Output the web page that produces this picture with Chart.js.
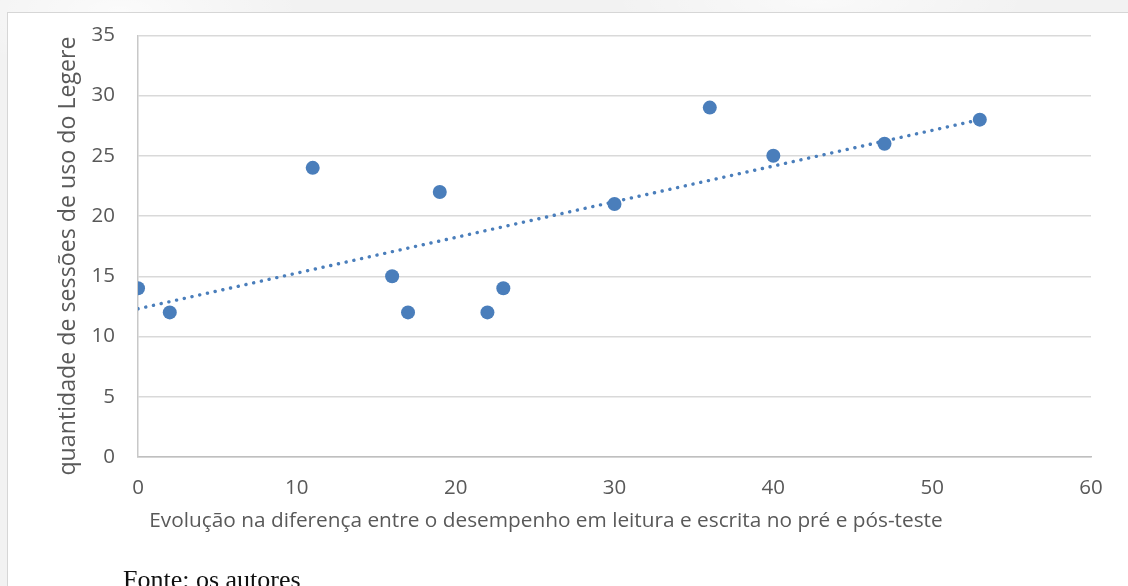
<!DOCTYPE html>
<html>
<head>
<meta charset="utf-8">
<script src="https://cdn.jsdelivr.net/npm/chart.js@4/dist/chart.umd.min.js"></script>
<style>
  html, body { margin: 0; padding: 0; }
  body {
    width: 1128px; height: 586px; overflow: hidden; position: relative;
    background: #f2f2f2;
    background-image:
      radial-gradient(ellipse 260px 90px at 120px 10px, rgba(255,255,255,0.7), rgba(255,255,255,0) 70%),
      radial-gradient(ellipse 300px 60px at 820px 2px, rgba(255,255,255,0.6), rgba(255,255,255,0) 70%);
  }
  .frame {
    position: absolute; left: 7px; top: 12px; width: 1200px; height: 700px;
    background: #fff; border: 1px solid #d6d6d6;
  }
  #wrap { position: absolute; left: 0; top: 0; width: 1128px; height: 586px; }
  .fonte {
    position: absolute; left: 123px; top: 567px;
    font-family: "Liberation Serif", "Times New Roman", serif;
    font-size: 26px; line-height: 1; color: #111; white-space: nowrap;
  }
</style>
</head>
<body>
<div class="frame"></div>
<div id="wrap"><canvas id="chart"></canvas></div>
<div class="fonte">Fonte: os autores</div>

<script>
// ── Data ───────────────────────────────────────────
const EVOLUCAO = [0, 2, 11, 16, 17, 19, 22, 23, 30, 36, 40, 47, 53];
const SESSOES  = [14, 12, 24, 15, 12, 22, 12, 14, 21, 29, 25, 26, 28];

// trendline endpoints
const TREND_X = [0, 53];
const TREND_Y = [12.3, 28.0];

const X_TICKS = [0, 10, 20, 30, 40, 50, 60];
const Y_TICKS = [0, 5, 10, 15, 20, 25, 30, 35];

const X_TITLE = "Evolução na diferença entre o desempenho em leitura e escrita no pré e pós-teste";
const Y_TITLE = "quantidade de sessões de uso do Legere";

const BLUE = "#4a7ebb";
const TEXT = "#595959";
const FONT = '"Open Sans", "Noto Sans", sans-serif';

// ── Axis titles (drawn where Excel put them) ───────
const axisTitles = {
  id: "axisTitles",
  afterDraw(chart) {
    const ctx = chart.ctx;
    ctx.save();
    ctx.fillStyle = TEXT;
    ctx.textAlign = "center";
    ctx.textBaseline = "alphabetic";
    ctx.font = `20.8px ${FONT}`;
    ctx.fillText(X_TITLE, 546, 527);
    ctx.translate(75, 256);
    ctx.rotate(-Math.PI / 2);
    ctx.font = `23.2px ${FONT}`;
    ctx.fillText(Y_TITLE, 0, 0);
    ctx.restore();
  },
};

new Chart(document.getElementById("chart"), {
  type: "scatter",
  data: {
    datasets: [
      {
        label: "Sessões",
        data: EVOLUCAO.map((x, i) => ({ x, y: SESSOES[i] })),
        backgroundColor: BLUE,
        borderColor: BLUE,
        pointRadius: 7,
        pointHoverRadius: 7,
        borderWidth: 0,
        order: 1,
      },
      {
        label: "Tendência",
        type: "line",
        data: TREND_X.map((x, i) => ({ x, y: TREND_Y[i] })),
        borderColor: BLUE,
        borderWidth: 3.4,
        borderDash: [0.1, 7.8],
        borderCapStyle: "round",
        pointRadius: 0,
        fill: false,
        order: 2,
      },
    ],
  },
  options: {
    responsive: true,
    maintainAspectRatio: false,
    animation: false,
    layout: { padding: { top: 34, right: 37, bottom: 0, left: 0 } },
    plugins: { legend: { display: false }, tooltip: { enabled: false } },
    scales: {
      x: {
        type: "linear",
        min: 0, max: 60,
        afterBuildTicks: s => { s.ticks = X_TICKS.map(v => ({ value: v })); },
        afterFit: s => { s.height = 129; },
        grid: { display: false, drawTicks: false },
        border: { display: true, color: "#bfbfbf", width: 1.5 },
        ticks: { color: TEXT, font: { family: FONT, size: 20.5 }, padding: 19, maxRotation: 0 },
      },
      y: {
        type: "linear",
        min: 0, max: 35,
        afterBuildTicks: s => { s.ticks = Y_TICKS.map(v => ({ value: v })); },
        afterFit: s => { s.width = 138; },
        grid: { color: "#d9d9d9", lineWidth: 1.5, drawTicks: false },
        border: { display: true, color: "#c8c8c8", width: 1.5 },
        ticks: { color: TEXT, font: { family: FONT, size: 20.5 }, padding: 23 },
      },
    },
  },
  plugins: [axisTitles],
});
</script>
</body>
</html>
